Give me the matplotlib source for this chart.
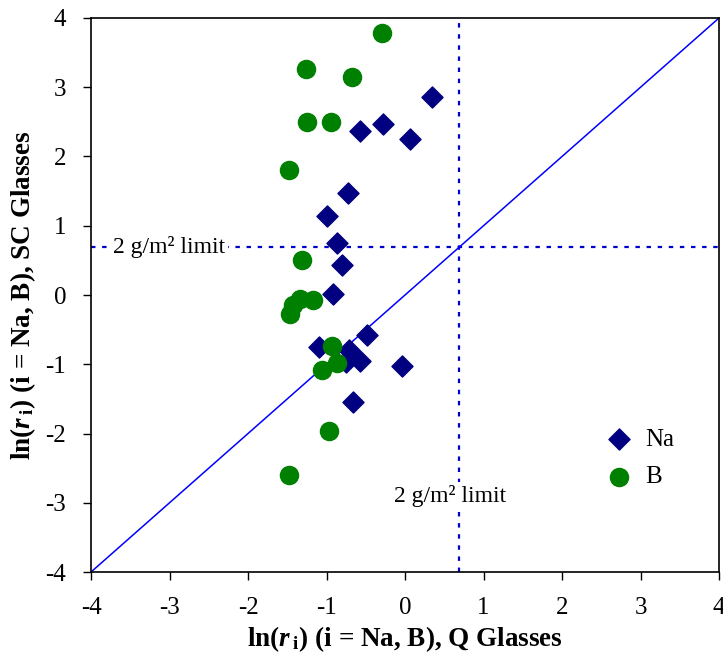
import matplotlib
matplotlib.use("Agg")
import matplotlib.pyplot as plt
import numpy as np

plt.rcParams['font.family'] = ['Liberation Serif', 'DejaVu Serif']
plt.rcParams['axes.unicode_minus'] = False
plt.rcParams['mathtext.fontset'] = 'custom'
plt.rcParams['mathtext.rm'] = 'Liberation Serif:bold'
plt.rcParams['mathtext.it'] = 'Liberation Serif:italic:bold'
plt.rcParams['mathtext.bf'] = 'Liberation Serif:bold'

# ln(r_i) for Q glasses (x) and SC glasses (y)
na_x = [0.34, -0.28, -0.57, 0.06, -0.73, -1.00, -0.87, -0.80, -0.92,
        -0.49, -1.10, -0.71, -0.57, -0.75, -0.04, -0.66]
na_y = [2.86, 2.47, 2.37, 2.25, 1.48, 1.14, 0.75, 0.44, 0.01,
        -0.58, -0.75, -0.79, -0.95, -0.97, -1.03, -1.54]
b_x = [-0.29, -1.26, -0.68, -1.25, -0.94, -1.48, -1.31, -1.34, -1.17,
       -1.43, -1.47, -0.93, -0.87, -1.06, -0.97, -1.48]
b_y = [3.78, 3.27, 3.15, 2.50, 2.50, 1.80, 0.50, -0.06, -0.07,
       -0.15, -0.27, -0.74, -0.98, -1.08, -1.96, -2.60]

limit = np.log(2)
ticks = [-4, -3, -2, -1, 0, 1, 2, 3, 4]

fig = plt.figure(figsize=(7.23, 6.56), dpi=100)
ax = fig.add_axes([0.1259, 0.128, 0.8686, 0.8446])

ax.plot([-4, 4], [-4, 4], color='#0000ff', lw=1.1, zorder=2)
ax.axvline(limit, color='#0000cc', lw=1.6, ls=(0, (2, 3)), zorder=1)
ax.axhline(limit, color='#0000cc', lw=1.6, ls=(0, (2, 3)), zorder=1)

ax.scatter(na_x, na_y, marker='D', s=115, color='#000080', label='Na', zorder=3)
ax.scatter(b_x, b_y, marker='o', s=170, color='#008000', label='B', zorder=3)

ax.text(-3.72, limit, '2 g/m² limit', fontsize=17, va='center', ha='left',
        bbox=dict(facecolor='white', edgecolor='none', pad=2), zorder=4)
ax.text(0.58, -2.9, '2 g/m² limit', fontsize=17, va='center', ha='center',
        bbox=dict(facecolor='white', edgecolor='none', pad=2), zorder=4)

ax.set_xlim(-4, 4)
ax.set_ylim(-4, 4)
ax.set_xticks(ticks)
ax.set_yticks(ticks)
ax.tick_params(direction='out', length=6, width=1, labelsize=18, pad=12)
for s in ax.spines.values():
    s.set_linewidth(1.2)

ax.set_xlabel(r'ln($\mathit{r}\,_{\mathbf{i}}$) (i = Na, B), Q Glasses', fontsize=19.5,
              fontweight='bold', labelpad=4)
ax.set_ylabel(r'ln($\mathit{r}\,_{\mathbf{i}}$) (i = Na, B), SC Glasses', fontsize=19.5,
              fontweight='bold', labelpad=5)

ax.legend(loc='center left', bbox_to_anchor=(0.765, 0.205), frameon=False,
          fontsize=18, handletextpad=0.05, labelspacing=0.6, scatterpoints=1)

fig.savefig('out.png', dpi=100)
